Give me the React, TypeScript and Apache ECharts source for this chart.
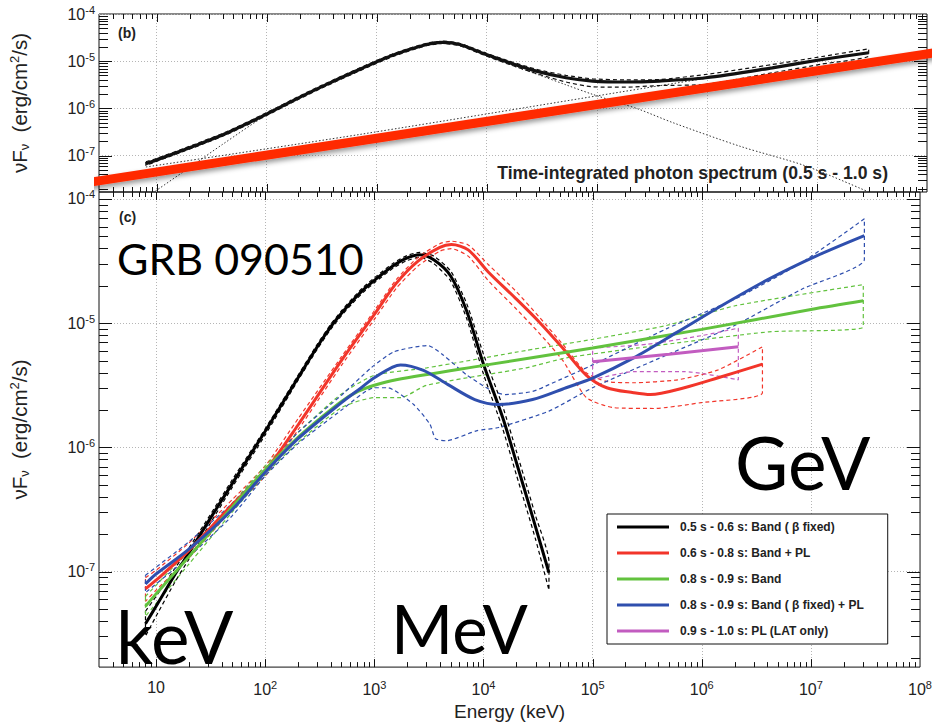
import React, { useEffect, useRef } from 'react';
import * as echarts from 'echarts';

type P = [number, number];

// ---- axis ranges ----
const X_MIN = 3;
const X_MAX = 1e8;
const B_Y_MIN = 1.7e-8;
const B_Y_MAX = 1e-4;
const C_Y_MIN = 1.7e-8;
const C_Y_MAX = 1.138e-4;

// ---- data, as [log10(E / keV), log10(nuFnu / erg cm^-2 s^-1)] ----
// Panel (b): time-integrated spectrum 0.5 s - 1.0 s
const bTotal: P[] = [[0.903,-7.17],[1.0,-7.09],[1.336,-6.8],[1.64,-6.52],[2.0,-6.12],[2.304,-5.76],[2.546,-5.49],[2.848,-5.17],[3.15,-4.87],[3.452,-4.646],[3.6,-4.6],[3.754,-4.646],[3.996,-4.86],[4.208,-5.034],[4.45,-5.21],[4.72,-5.35],[4.962,-5.42],[5.265,-5.44],[5.567,-5.42],[5.99,-5.35],[6.595,-5.14],[7.048,-4.964],[7.47,-4.82]];
const bTotalUp: P[] = [[0.903,-7.13],[1.0,-7.06],[1.336,-6.77],[1.64,-6.49],[2.0,-6.09],[2.304,-5.73],[2.546,-5.46],[2.848,-5.14],[3.15,-4.84],[3.452,-4.62],[3.6,-4.575],[3.754,-4.62],[3.996,-4.83],[4.208,-5.0],[4.45,-5.17],[4.72,-5.3],[4.962,-5.373],[5.265,-5.395],[5.567,-5.388],[5.99,-5.28],[6.595,-5.07],[7.048,-4.9],[7.47,-4.737]];
const bTotalLo: P[] = [[0.903,-7.21],[1.0,-7.12],[1.336,-6.83],[1.64,-6.55],[2.0,-6.15],[2.304,-5.79],[2.546,-5.52],[2.848,-5.2],[3.15,-4.9],[3.452,-4.672],[3.6,-4.625],[3.754,-4.672],[3.996,-4.89],[4.208,-5.07],[4.45,-5.26],[4.72,-5.44],[4.962,-5.542],[5.265,-5.55],[5.567,-5.515],[5.99,-5.49],[6.595,-5.246],[7.048,-5.06],[7.47,-4.89]];
const bBand: P[] = [[0.99,-7.75],[1.3,-7.25],[1.6,-6.76],[2.0,-6.14],[2.304,-5.77],[2.546,-5.5],[2.848,-5.18],[3.15,-4.88],[3.452,-4.655],[3.6,-4.61],[3.754,-4.655],[3.996,-4.88],[4.208,-5.07],[4.45,-5.27],[4.72,-5.5],[4.96,-5.7],[5.2,-5.88],[5.386,-6.02],[5.69,-6.3],[6.3,-6.8],[6.9,-7.22],[7.47,-7.77]];
const bPowerLaw: P[] = [[0.903,-7.24],[2.848,-6.55],[5.567,-5.52],[7.47,-4.82]];
const bOverlay: P[] = [[0.355,-7.576],[8.1,-4.81]];

// Panel (c): time-resolved spectra
const cBlack: P[] = [[0.903,-7.42],[1.0,-7.28],[1.176,-7.02],[1.301,-6.85],[1.477,-6.6],[1.699,-6.29],[2.0,-5.87],[2.301,-5.44],[2.477,-5.19],[2.6,-5.03],[2.699,-4.92],[2.8,-4.82],[2.9,-4.73],[3.0,-4.655],[3.176,-4.535],[3.301,-4.475],[3.415,-4.45],[3.544,-4.49],[3.699,-4.62],[3.845,-4.9],[4.0,-5.33],[4.176,-5.76],[4.301,-6.12],[4.477,-6.64],[4.6,-7.01]];
const cBlackUp: P[] = [[0.903,-7.32],[1.0,-7.2],[1.176,-6.97],[1.301,-6.81],[1.477,-6.57],[1.699,-6.26],[2.0,-5.85],[2.301,-5.42],[2.477,-5.17],[2.6,-5.01],[2.699,-4.9],[2.8,-4.8],[2.9,-4.71],[3.0,-4.635],[3.176,-4.515],[3.301,-4.455],[3.415,-4.43],[3.544,-4.46],[3.699,-4.58],[3.845,-4.84],[4.0,-5.25],[4.176,-5.67],[4.301,-6.03],[4.477,-6.55],[4.6,-6.92]];
const cBlackLo: P[] = [[0.903,-7.52],[1.0,-7.36],[1.176,-7.08],[1.301,-6.9],[1.477,-6.64],[1.699,-6.32],[2.0,-5.9],[2.301,-5.46],[2.477,-5.21],[2.6,-5.05],[2.699,-4.94],[2.8,-4.84],[2.9,-4.75],[3.0,-4.675],[3.176,-4.555],[3.301,-4.495],[3.415,-4.47],[3.544,-4.52],[3.699,-4.66],[3.845,-4.96],[4.0,-5.41],[4.176,-5.85],[4.301,-6.22],[4.477,-6.74],[4.6,-7.15]];
const cRed: P[] = [[0.903,-7.14],[1.0,-7.07],[1.301,-6.83],[1.699,-6.46],[2.0,-6.19],[2.301,-5.82],[2.699,-5.3],[3.0,-4.93],[3.2,-4.68],[3.4,-4.5],[3.6,-4.39],[3.705,-4.367],[3.86,-4.41],[4.046,-4.59],[4.294,-4.8],[4.51,-4.99],[4.726,-5.2],[4.943,-5.42],[5.129,-5.52],[5.376,-5.56],[5.53,-5.575],[5.84,-5.52],[6.15,-5.44],[6.556,-5.33]];
const cRedUp: P[] = [[0.903,-7.05],[1.0,-6.99],[1.301,-6.77],[1.699,-6.42],[2.0,-6.15],[2.301,-5.77],[2.699,-5.27],[3.0,-4.9],[3.2,-4.65],[3.4,-4.47],[3.6,-4.36],[3.705,-4.34],[3.86,-4.37],[4.046,-4.53],[4.294,-4.74],[4.51,-4.95],[4.726,-5.17],[4.943,-5.4],[5.129,-5.47],[5.376,-5.48],[5.78,-5.456],[6.15,-5.376],[6.556,-5.19]];
const cRedLo: P[] = [[0.903,-7.24],[1.0,-7.15],[1.301,-6.89],[1.699,-6.5],[2.0,-6.23],[2.301,-5.86],[2.699,-5.34],[3.0,-4.97],[3.2,-4.72],[3.4,-4.54],[3.6,-4.42],[3.705,-4.4],[3.86,-4.46],[4.046,-4.66],[4.294,-4.88],[4.51,-5.08],[4.726,-5.3],[4.943,-5.6],[5.19,-5.68],[5.56,-5.687],[5.995,-5.64],[6.556,-5.56]];
const cGreen: P[] = [[0.903,-7.28],[1.0,-7.18],[1.301,-6.88],[1.699,-6.48],[2.0,-6.18],[2.301,-5.92],[2.5,-5.77],[2.699,-5.63],[2.85,-5.55],[3.0,-5.5],[3.2,-5.455],[4.0,-5.34],[5.0,-5.2],[6.0,-5.05],[7.0,-4.89],[7.48,-4.82]];
const cGreenUp: P[] = [[0.903,-7.2],[1.301,-6.83],[1.699,-6.45],[2.0,-6.15],[2.301,-5.88],[2.699,-5.57],[3.0,-5.42],[3.48,-5.36],[4.39,-5.22],[5.0,-5.13],[5.685,-5.017],[6.305,-4.86],[7.48,-4.69]];
const cGreenLo: P[] = [[0.903,-7.36],[1.301,-6.94],[1.699,-6.52],[2.0,-6.22],[2.301,-5.96],[2.699,-5.68],[3.0,-5.6],[3.24,-5.6],[3.48,-5.5],[4.39,-5.36],[4.757,-5.28],[5.5,-5.19],[6.614,-5.07],[7.48,-5.03]];
const cBlue: P[] = [[0.903,-7.1],[1.0,-7.02],[1.301,-6.82],[1.699,-6.5],[2.0,-6.2],[2.301,-5.93],[2.699,-5.64],[2.88,-5.52],[3.0,-5.44],[3.24,-5.336],[3.45,-5.38],[3.675,-5.495],[3.92,-5.615],[4.14,-5.655],[4.45,-5.615],[4.757,-5.52],[5.005,-5.44],[5.376,-5.28],[5.78,-5.07],[6.18,-4.86],[6.614,-4.645],[7.047,-4.46],[7.49,-4.295]];
const cBlueUp: P[] = [[0.903,-7.03],[1.301,-6.76],[1.699,-6.45],[2.0,-6.17],[2.301,-5.88],[2.699,-5.58],[2.97,-5.36],[3.18,-5.23],[3.49,-5.18],[3.63,-5.256],[3.845,-5.416],[4.087,-5.55],[4.2,-5.575],[4.45,-5.55],[4.6,-5.495],[5.0,-5.336],[5.68,-5.044],[6.305,-4.805],[6.92,-4.51],[7.49,-4.16]];
const cBlueLo: P[] = [[0.903,-7.17],[1.301,-6.88],[1.699,-6.55],[2.0,-6.23],[2.301,-5.97],[2.699,-5.7],[3.0,-5.52],[3.12,-5.52],[3.36,-5.655],[3.51,-5.815],[3.56,-5.93],[3.66,-5.947],[3.935,-5.867],[4.14,-5.84],[4.6,-5.708],[5.0,-5.52],[5.68,-5.256],[6.305,-5.017],[6.92,-4.725],[7.49,-4.486]];
const cMagenta: P[] = [[5.0,-5.31],[5.7,-5.25],[6.335,-5.19]];
const cMagentaUp: P[] = [[5.0,-5.2],[5.5,-5.17],[6.0,-5.1],[6.335,-5.04]];
const cMagentaLo: P[] = [[5.0,-5.456],[5.376,-5.39],[5.84,-5.39],[6.335,-5.456]];

const seriesNames = [
  '0.5 s - 0.6 s: Band ( β fixed)',
  '0.6 s - 0.8 s: Band + PL',
  '0.8 s - 0.9 s: Band',
  '0.8 s - 0.9 s: Band ( β fixed) + PL',
  '0.9 s - 1.0 s: PL (LAT only)',
];
const seriesColors = ['#000000', '#f2352a', '#62c23e', '#2f4fae', '#c25cc0'];

const FONT = "'Liberation Sans', Arial, Helvetica, sans-serif";
const BIG = "Lato, 'Open Sans', sans-serif";

const toData = (arr: P[]) => arr.map(([le, lf]) => [Math.pow(10, le), Math.pow(10, lf)]);
const loop = (up: P[], lo: P[]) => {
  const u = toData(up);
  const l = toData(lo).reverse();
  return [...u, ...l, u[0]];
};

const labelFmt = (plainTen: boolean) => (v: number) => {
  const l = Math.log10(v);
  const n = Math.round(l);
  if (Math.abs(l - n) > 0.01) return '';
  if (plainTen && n === 1) return '10';
  return `10{sup|${n}}`;
};

const labelRich = {
  base: { fontSize: 16, fontFamily: FONT, color: '#222' },
  sup: { fontSize: 11, fontFamily: FONT, color: '#222', padding: [0, 0, 9, 0] },
};

// tick positions (axis structure): decades and 2..9 subdivisions
const xTicks: number[][] = [];
for (let n = 0; n <= 7; n++) {
  for (let k = 1; k <= 9; k++) {
    const v = k * Math.pow(10, n);
    if (v > X_MIN * 1.0001 && v < X_MAX * 0.9999) xTicks.push([v, 1e-6, k === 1 ? 1 : 0]);
  }
}
const yTicksFor = (lo: number, hi: number) => {
  const out: number[][] = [];
  for (let n = -8; n <= -4; n++) {
    for (let k = 1; k <= 9; k++) {
      const v = k * Math.pow(10, n);
      if (v > lo * 1.0001 && v < hi * 0.9999) out.push([100, v, k === 1 ? 1 : 0]);
    }
  }
  return out;
};

const renderXTicks = (params: any, api: any) => {
  const cs = params.coordSys;
  const px = Math.round(api.coord([api.value(0), api.value(1)])[0]) + 0.5;
  const len = api.value(2) ? 8 : 5;
  const bottom = cs.y + cs.height;
  return {
    type: 'group',
    children: [
      { type: 'line', shape: { x1: px, y1: bottom, x2: px, y2: bottom - len }, style: { stroke: '#111', lineWidth: 1 } },
      { type: 'line', shape: { x1: px, y1: cs.y, x2: px, y2: cs.y + len }, style: { stroke: '#111', lineWidth: 1 } },
    ],
  };
};
const renderYTicks = (params: any, api: any) => {
  const cs = params.coordSys;
  const py = Math.round(api.coord([api.value(0), api.value(1)])[1]) + 0.5;
  const len = api.value(2) ? 13 : 9;
  const right = cs.x + cs.width;
  return {
    type: 'group',
    children: [
      { type: 'line', shape: { x1: cs.x, y1: py, x2: cs.x + len, y2: py }, style: { stroke: '#111', lineWidth: 1 } },
      { type: 'line', shape: { x1: right, y1: py, x2: right - len, y2: py }, style: { stroke: '#111', lineWidth: 1 } },
    ],
  };
};

const solid = (name: string | undefined, data: P[], color: string, idx: number, width = 3, z = 4) => ({
  type: 'line',
  name,
  xAxisIndex: idx,
  yAxisIndex: idx,
  data: toData(data),
  symbol: 'none',
  showSymbol: false,
  smooth: 0.3,
  lineStyle: { color, width },
  itemStyle: { color },
  silent: true,
  z,
});
const dashed = (data: any[], color: string, idx: number) => ({
  type: 'line',
  xAxisIndex: idx,
  yAxisIndex: idx,
  data,
  symbol: 'none',
  showSymbol: false,
  smooth: 0.2,
  lineStyle: { color, width: 1.2, type: [4, 3] },
  itemStyle: { color },
  silent: true,
  z: 3,
});
const dotted = (data: P[], idx: number) => ({
  type: 'line',
  xAxisIndex: idx,
  yAxisIndex: idx,
  data: toData(data),
  symbol: 'none',
  showSymbol: false,
  smooth: 0.3,
  lineStyle: { color: '#333', width: 1, type: [1.5, 2] },
  silent: true,
  z: 3,
});

const splitLine = { show: true, showMinLine: false, showMaxLine: false, lineStyle: { color: '#b5b5b5', width: 1, type: [1, 2] } };

const yName = 'νF{sub|ν}  (erg/cm{sup|2}/s)';
const yNameStyle = {
  fontSize: 20.5,
  fontFamily: FONT,
  color: '#222',
  rich: {
    sub: { fontSize: 13, fontFamily: FONT, color: '#222', padding: [9, 0, 0, 0] },
    sup: { fontSize: 13, fontFamily: FONT, color: '#222', padding: [0, 0, 10, 0] },
  },
};

const axisLabelStyle = { show: true, rich: labelRich, color: '#222', fontFamily: FONT, fontSize: 16 };

const bigText = (text: string, x: number, y: number, size: number) => ({
  type: 'text', x, y, z: 40,
  style: { text, font: `${size}px ${BIG}`, fill: '#000', lineHeight: Math.round(size * 0.76), verticalAlign: 'middle', textVerticalAlign: 'middle' },
});

function buildOption() {
  return {
    animation: false,
    backgroundColor: '#fff',
    grid: [
      { left: 98, top: 14, width: 829, height: 178, show: true, borderColor: '#111', borderWidth: 1, backgroundColor: 'transparent' },
      { left: 98, top: 192, width: 829, height: 480.5, show: true, borderColor: '#111', borderWidth: 1, backgroundColor: 'transparent' },
    ],
    xAxis: [
      {
        gridIndex: 0, type: 'log', logBase: 10, min: X_MIN, max: X_MAX,
        axisLine: { show: false }, axisTick: { show: false }, axisLabel: { show: false }, splitLine,
      },
      {
        gridIndex: 1, type: 'log', logBase: 10, min: X_MIN, max: X_MAX,
        axisLine: { show: false }, axisTick: { show: false },
        axisLabel: { ...axisLabelStyle, formatter: labelFmt(true), margin: 12 },
        splitLine,
        name: 'Energy (keV)', nameLocation: 'middle', nameGap: 34,
        nameTextStyle: { fontSize: 19, fontFamily: FONT, color: '#222' },
      },
    ],
    yAxis: [
      {
        gridIndex: 0, type: 'log', logBase: 10, min: B_Y_MIN, max: B_Y_MAX,
        axisLine: { show: false }, axisTick: { show: false },
        axisLabel: { ...axisLabelStyle, formatter: labelFmt(false), margin: 4 },
        splitLine,
        name: yName, nameLocation: 'middle', nameRotate: 90, nameGap: 68, nameTextStyle: yNameStyle,
      },
      {
        gridIndex: 1, type: 'log', logBase: 10, min: C_Y_MIN, max: C_Y_MAX,
        axisLine: { show: false }, axisTick: { show: false },
        axisLabel: { ...axisLabelStyle, formatter: labelFmt(false), margin: 4 },
        splitLine,
        name: yName, nameLocation: 'middle', nameRotate: 90, nameGap: 68, nameTextStyle: yNameStyle,
      },
    ],
    legend: {
      show: true,
      data: seriesNames,
      orient: 'vertical',
      left: 607,
      top: 514,
      itemWidth: 52,
      itemHeight: 3,
      itemGap: 14,
      icon: 'rect',
      padding: [7, 24, 7, 10],
      borderColor: '#111',
      borderWidth: 1,
      backgroundColor: '#fff',
      selectedMode: false,
      textStyle: { fontFamily: FONT, fontWeight: 'bold', fontSize: 12, color: '#222', padding: [0, 0, 0, 6] },
      z: 30,
    },
    graphic: [
      { type: 'text', x: 118, y: 33, z: 40, style: { text: '(b)', font: `bold 14px ${FONT}`, fill: '#222', verticalAlign: 'middle', textVerticalAlign: 'middle' } },
      { type: 'text', x: 119, y: 217, z: 40, style: { text: '(c)', font: `bold 14px ${FONT}`, fill: '#222', verticalAlign: 'middle', textVerticalAlign: 'middle' } },
      { type: 'text', x: 888, y: 173, z: 40, style: { text: 'Time-integrated photon spectrum (0.5 s - 1.0 s)', font: `bold 17.6px ${FONT}`, fill: '#222', align: 'right', textAlign: 'right', verticalAlign: 'middle', textVerticalAlign: 'middle' } },
      bigText('GRB 090510', 117, 258, 43),
      bigText('keV', 116, 636, 73),
      bigText('MeV', 391, 628, 67),
      bigText('GeV', 735, 462, 73),
    ],
    series: [
      // tick marks (both panels)
      { type: 'custom', xAxisIndex: 0, yAxisIndex: 0, data: xTicks, renderItem: renderXTicks, encode: { x: 0, y: 1 }, silent: true, clip: false, z: 6 },
      { type: 'custom', xAxisIndex: 1, yAxisIndex: 1, data: xTicks, renderItem: renderXTicks, encode: { x: 0, y: 1 }, silent: true, clip: false, z: 6 },
      { type: 'custom', xAxisIndex: 0, yAxisIndex: 0, data: yTicksFor(B_Y_MIN, B_Y_MAX), renderItem: renderYTicks, encode: { x: 0, y: 1 }, silent: true, clip: false, z: 6 },
      { type: 'custom', xAxisIndex: 1, yAxisIndex: 1, data: yTicksFor(C_Y_MIN, C_Y_MAX), renderItem: renderYTicks, encode: { x: 0, y: 1 }, silent: true, clip: false, z: 6 },

      // panel (b)
      dotted(bBand, 0),
      dotted(bPowerLaw, 0),
      dashed(loop(bTotalUp, bTotalLo), '#111', 0),
      solid(undefined, bTotal, '#111', 0, 3.2),
      {
        type: 'line', xAxisIndex: 0, yAxisIndex: 0, data: toData(bOverlay), symbol: 'none', showSymbol: false,
        clip: false, silent: true, z: 20,
        lineStyle: { color: '#ff2a06', width: 9, cap: 'butt', shadowBlur: 5, shadowColor: 'rgba(0,0,0,0.4)', shadowOffsetX: 1, shadowOffsetY: 3 },
      },

      // panel (c) contours
      dashed(loop(cBlackUp, cBlackLo), seriesColors[0], 1),
      dashed(loop(cRedUp, cRedLo), seriesColors[1], 1),
      dashed(loop(cGreenUp, cGreenLo), seriesColors[2], 1),
      dashed(loop(cBlueUp, cBlueLo), seriesColors[3], 1),
      dashed(loop(cMagentaUp, cMagentaLo), seriesColors[4], 1),
      // panel (c) best fits
      solid(seriesNames[0], cBlack, seriesColors[0], 1),
      solid(seriesNames[1], cRed, seriesColors[1], 1),
      solid(seriesNames[2], cGreen, seriesColors[2], 1),
      solid(seriesNames[3], cBlue, seriesColors[3], 1),
      solid(seriesNames[4], cMagenta, seriesColors[4], 1),
    ],
  };
}

export default function App() {
  const ref = useRef<HTMLDivElement>(null);
  useEffect(() => {
    if (!ref.current) return;
    const chart = echarts.init(ref.current, undefined, { renderer: 'svg' });
    chart.setOption(buildOption() as any);
    return () => {
      chart.dispose();
    };
  }, []);
  return (
    <div
      ref={ref}
      style={{ position: 'fixed', left: 0, top: 0, width: 935, height: 726, background: '#fff' }}
    />
  );
}
